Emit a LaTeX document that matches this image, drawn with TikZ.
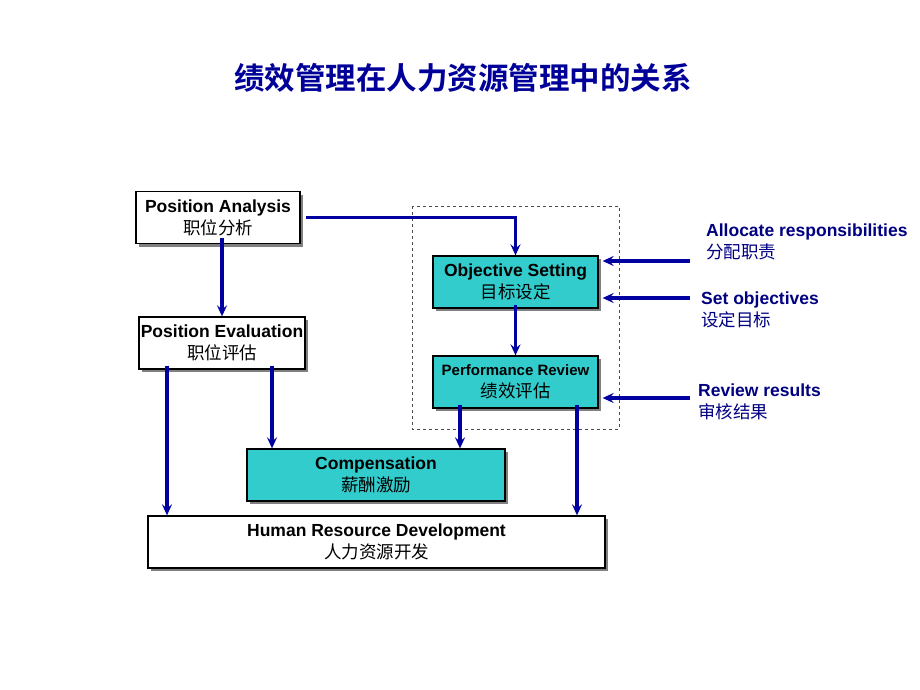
\documentclass[tikz,border=0pt]{standalone}
\usepackage{fontspec}
\setmainfont{Liberation Sans}
\newfontfamily\cjk{Noto Sans CJK SC}
\newfontfamily\cjkbold{Noto Sans CJK SC Bold}
\usetikzlibrary{arrows.meta,shadows}
\definecolor{flowblue}{RGB}{0,0,160}
\definecolor{labelblue}{RGB}{0,0,128}
\definecolor{titleblue}{RGB}{0,0,153}
\definecolor{boxteal}{RGB}{51,204,204}
\tikzset{
  box/.style={draw=black, line width=1.3pt, fill=white, minimum height=52pt,
    align=center, inner sep=0pt, font=\fontsize{17.5}{22}\selectfont,
    drop shadow={shadow xshift=3pt, shadow yshift=-3pt, fill=black!50, opacity=1}},
  tealbox/.style={box, fill=boxteal},
  flow/.style={draw=flowblue, line width=3.2pt, -{Stealth[length=11pt,width=10pt,inset=4pt]}},
  side/.style={text=labelblue, align=left, anchor=west, inner sep=0pt,
    font=\fontsize{17.5}{22}\selectfont}
}
\begin{document}
\begin{tikzpicture}[x=1pt,y=-1pt]
\useasboundingbox (0,0) rectangle (920,690);

% Title
\node (title) at (463,78) {\fontsize{30.5}{34}\selectfont\cjkbold\color{titleblue}绩效管理在人力资源管理中的关系};

% Boxes
\node[box, minimum width=164pt] (pa) at (218,217.5) {\bfseries Position Analysis\\\cjk 职位分析};
\node[box, minimum width=166pt] (pe) at (222,343) {\bfseries Position Evaluation\\\cjk 职位评估};
\node[tealbox, minimum width=165pt] (os) at (515.5,282) {\bfseries Objective Setting\\\cjk 目标设定};
\node[tealbox, minimum width=165pt] (pr) at (515.5,382) {\fontsize{15}{22}\selectfont\bfseries Performance Review\\\cjk 绩效评估};
\node[tealbox, minimum width=258pt] (comp) at (376,475) {\bfseries Compensation\\\cjk 薪酬激励};
\node[box, minimum width=457pt] (hrd) at (376.5,542) {\bfseries Human Resource Development\\\cjk 人力资源开发};

% Dashed frame
\draw[black!70, dashed, line width=0.8pt] (412,206) rectangle (619,429);

% Side labels
\node[side] (alloc) at (706,242) {\bfseries Allocate responsibilities\\\cjk 分配职责};
\node[side] (setobj) at (701,310) {\bfseries Set objectives\\\cjk 设定目标};
\node[side] (review) at (698,402) {\bfseries Review results\\\cjk 审核结果};
\coordinate (alloc-in) at (690,261);
\coordinate (setobj-in) at (690,298);
\coordinate (review-in) at (690,398);

% Flows
\draw[flow] ([xshift=5pt]pa.east) -| (os.north);
\draw[flow] ([yshift=6pt]pe.north |- pa.south) -- (pe.north);
\draw[flow] ([yshift=4pt]os.south) -- (pr.north);
\draw[flow] ([xshift=-55pt,yshift=4pt]pe.south) -- ([xshift=-55pt]pe.south |- hrd.north);
\draw[flow] ([xshift=50pt,yshift=4pt]pe.south) -- ([xshift=50pt]pe.south |- comp.north);
\draw[flow] ([xshift=-55.5pt,yshift=4pt]pr.south) -- ([xshift=-55.5pt]pr.south |- comp.north);
\draw[flow] ([xshift=61.5pt,yshift=4pt]pr.south) -- ([xshift=61.5pt]pr.south |- hrd.north);
\draw[flow] (alloc-in) -- ([xshift=4pt]alloc-in -| os.east);
\draw[flow] (setobj-in) -- ([xshift=4pt]setobj-in -| os.east);
\draw[flow] (review-in) -- ([xshift=4pt]review-in -| pr.east);
\end{tikzpicture}
\end{document}
